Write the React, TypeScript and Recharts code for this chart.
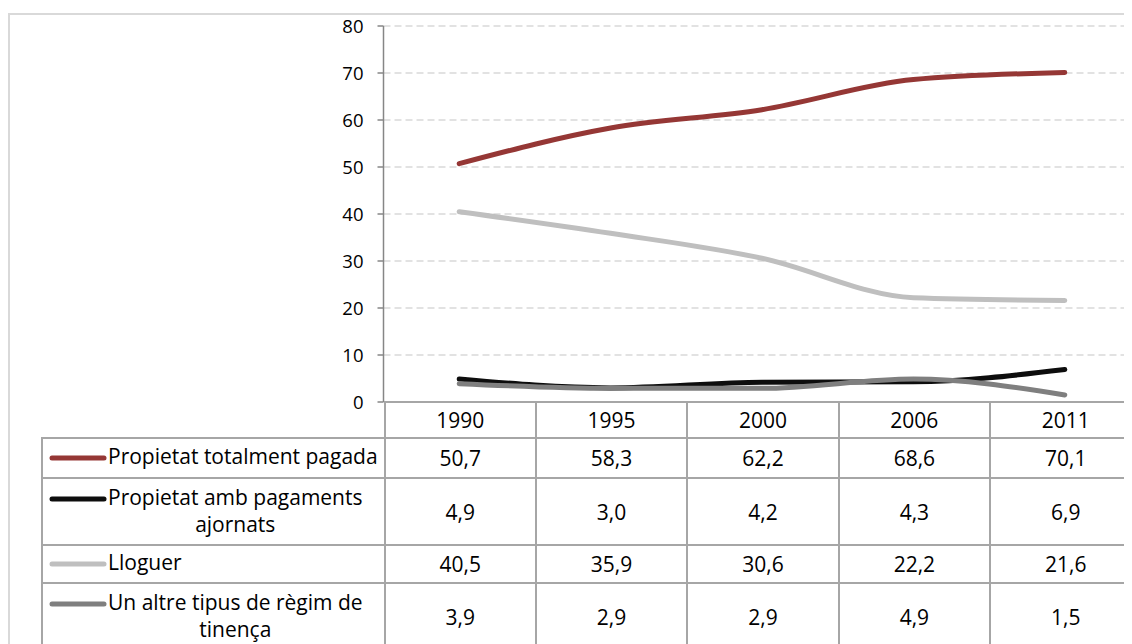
import { CartesianGrid, Line, LineChart, XAxis, YAxis } from "recharts";

const years = ["1990", "1995", "2000", "2006", "2011"];
const propietatPagada = [50.7, 58.3, 62.2, 68.6, 70.1];
const propietatAjornada = [4.9, 3.0, 4.2, 4.3, 6.9];
const lloguer = [40.5, 35.9, 30.6, 22.2, 21.6];
const altreTipus = [3.9, 2.9, 2.9, 4.9, 1.5];
const yTicks = [0, 10, 20, 30, 40, 50, 60, 70, 80];

const seriesNames = [
  "Propietat totalment pagada",
  "Propietat amb pagaments ajornats",
  "Lloguer",
  "Un altre tipus de règim de tinença",
];
// how the names wrap in the data table
const seriesLabelLines = [
  ["Propietat totalment pagada"],
  ["Propietat amb pagaments", "ajornats"],
  ["Lloguer"],
  ["Un altre tipus de règim de", "tinença"],
];
const seriesValues = [propietatPagada, propietatAjornada, lloguer, altreTipus];
const seriesColors = ["#953735", "#0d0d0d", "#bfbfbf", "#7f7f7f"];
const seriesKeys = ["s0", "s1", "s2", "s3"];

const data = years.map((year, i) => {
  const row: Record<string, string | number> = { year };
  seriesKeys.forEach((k, s) => {
    row[k] = seriesValues[s][i];
  });
  return row;
});

// layout (container coords, container starts at page 8,8)
const W = 1170;
const H = 430;
const PLOT_LEFT = 375.5;
const BAND = 151.4;
const PLOT_W = BAND * years.length;
const PLOT_TOP = 18;
const PLOT_BOTTOM = 394;
const TABLE_LEFT = 33;
const ROW_HEIGHTS = [40, 67, 38, 67];
const FONT = "'Open Sans', sans-serif";
const BORDER = "2px solid #a6a6a6";

const fmt = (v: number) => v.toFixed(1).replace(".", ",");

export default function App() {
  return (
    <div
      style={{
        position: "relative",
        width: 1124,
        height: 636,
        overflow: "hidden",
        fontFamily: FONT,
      }}
    >
      <div
        style={{
          position: "absolute",
          left: 0,
          top: 5,
          width: 1300,
          height: 800,
          border: "2px solid #d9d9d9",
          boxSizing: "border-box",
        }}
      />
      <div style={{ position: "absolute", left: 0, top: 0 }}>
        <LineChart
          width={W}
          height={H}
          data={data}
          margin={{
            top: PLOT_TOP,
            left: 0,
            right: W - PLOT_LEFT - PLOT_W,
            bottom: H - PLOT_BOTTOM,
          }}
        >
          <CartesianGrid
            vertical={false}
            stroke="#d9d9d9"
            strokeDasharray="7 4"
            strokeWidth={1.5}
          />
          <XAxis
            dataKey="year"
            hide
            padding={{ left: BAND / 2, right: BAND / 2 }}
          />
          <YAxis
            width={PLOT_LEFT}
            domain={[0, 80]}
            ticks={yTicks}
            interval={0}
            axisLine={{ stroke: "#868686", strokeWidth: 1.5 }}
            tickLine={{ stroke: "#868686", strokeWidth: 1.5 }}
            tickSize={6}
            tickMargin={14}
            tick={{ fill: "#000", fontSize: 18.5, fontFamily: FONT }}
          />
          {seriesKeys.map((k, s) => (
            <Line
              key={k}
              dataKey={k}
              name={seriesNames[s]}
              type="monotone"
              stroke={seriesColors[s]}
              strokeWidth={5}
              strokeLinecap="round"
              dot={false}
              activeDot={false}
              isAnimationActive={false}
            />
          ))}
        </LineChart>
      </div>
      <table
        style={{
          position: "absolute",
          left: TABLE_LEFT,
          top: PLOT_BOTTOM - 1,
          borderCollapse: "collapse",
          tableLayout: "fixed",
          width: PLOT_LEFT - TABLE_LEFT + PLOT_W,
          fontFamily: FONT,
          fontSize: 21,
          color: "#000",
        }}
      >
        <colgroup>
          <col style={{ width: PLOT_LEFT - TABLE_LEFT }} />
          {years.map((y) => (
            <col key={y} style={{ width: BAND }} />
          ))}
        </colgroup>
        <tbody>
          <tr style={{ height: 36 }}>
            <td style={{ padding: 0 }} />
            {years.map((y) => (
              <td
                key={y}
                style={{ border: BORDER, textAlign: "center", padding: 0 }}
              >
                {y}
              </td>
            ))}
          </tr>
          {seriesNames.map((name, s) => (
            <tr key={name} style={{ height: ROW_HEIGHTS[s] }}>
              <td style={{ border: BORDER, padding: "0 2px 0 6px" }}>
                <div style={{ display: "flex", alignItems: "flex-start" }}>
                  <div
                    style={{
                      flex: "none",
                      height: 27,
                      display: "flex",
                      alignItems: "center",
                    }}
                  >
                    <svg width={59} height={8}>
                      <line
                        x1={3}
                        y1={4}
                        x2={55}
                        y2={4}
                        stroke={seriesColors[s]}
                        strokeWidth={5}
                        strokeLinecap="round"
                      />
                    </svg>
                  </div>
                  <div
                    style={{
                      flex: "none",
                      textAlign: "center",
                      lineHeight: "27px",
                      whiteSpace: "nowrap",
                      marginTop: -2,
                    }}
                  >
                    {seriesLabelLines[s].map((line) => (
                      <div key={line}>{line}</div>
                    ))}
                  </div>
                </div>
              </td>
              {seriesValues[s].map((v, i) => (
                <td
                  key={i}
                  style={{ border: BORDER, textAlign: "center", padding: 0 }}
                >
                  {fmt(v)}
                </td>
              ))}
            </tr>
          ))}
        </tbody>
      </table>
    </div>
  );
}
